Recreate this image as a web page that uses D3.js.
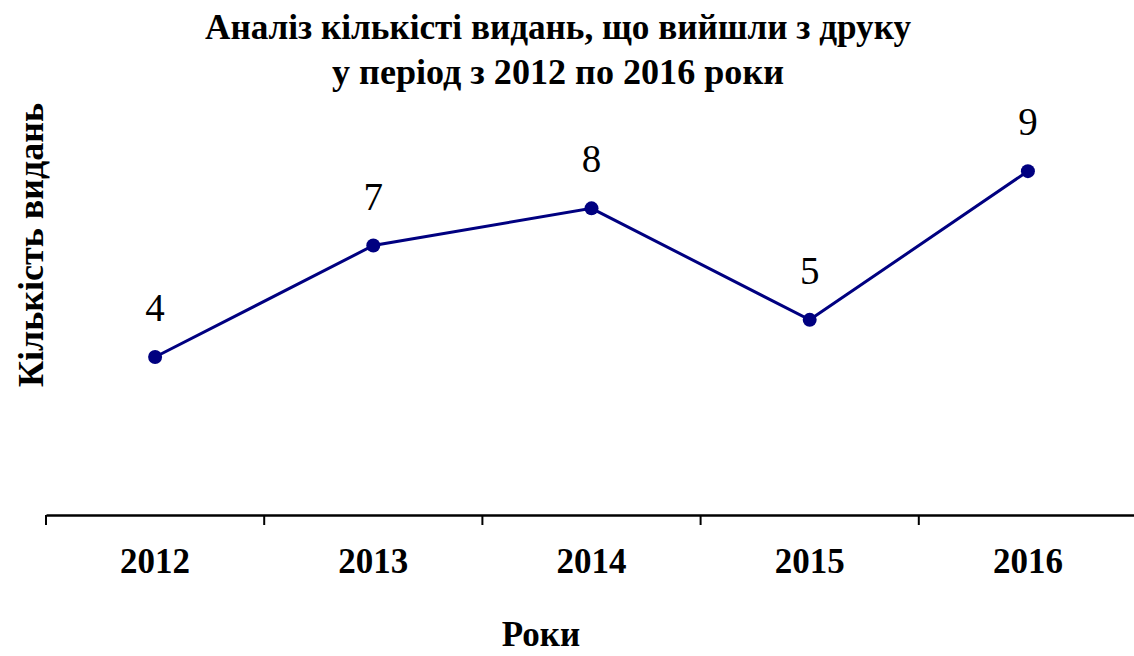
<!DOCTYPE html>
<html>
<head>
<meta charset="utf-8">
<script src="https://cdn.jsdelivr.net/npm/d3@7"></script>
<style>
  body { margin: 0; background: #fff; }
  svg { display: block; }
</style>
</head>
<body>
<svg id="svg" width="1134" height="656"></svg>
<script>
var years = ["2012", "2013", "2014", "2015", "2016"];
var counts = [4, 7, 8, 5, 9];
var titleLines = ["Аналіз кількісті видань, що вийшли з друку", "у період з 2012 по 2016 роки"];

var svg = d3.select("#svg");
var serif = "'Liberation Serif', 'Times New Roman', serif";

var x = d3.scaleBand().domain(years).range([46, 1137]);
var y = d3.scaleLinear().domain([-0.25, 10]).range([515, 134]);

// title
svg.append("g").selectAll("text")
    .data(titleLines)
    .enter().append("text")
    .attr("x", 558)
    .attr("y", function(d, i) { return 39 + i * 45; })
    .attr("text-anchor", "middle")
    .attr("font-family", serif)
    .attr("font-weight", "bold")
    .attr("font-size", "36px")
    .attr("textLength", function(d, i) { return i == 0 ? 706 : 452; })
    .attr("lengthAdjust", "spacingAndGlyphs")
    .text(function(d) { return d; });

// x axis
var xAxis = d3.axisBottom(x).tickSize(10).tickSizeOuter(0).tickFormat("");
var gx = svg.append("g").attr("transform", "translate(0,515)").call(xAxis);
gx.select(".domain").attr("stroke", "#000").attr("stroke-width", 2.5);
// ticks sit on band edges, not centres
gx.selectAll(".tick").remove();
gx.selectAll("line.edge")
    .data(years)
    .enter().append("line")
    .attr("class", "edge")
    .attr("x1", function(d) { return x(d); })
    .attr("x2", function(d) { return x(d); })
    .attr("y1", 0).attr("y2", 10)
    .attr("stroke", "#000").attr("stroke-width", 2);

svg.append("g").selectAll("text")
    .data(years)
    .enter().append("text")
    .attr("x", function(d) { return x(d) + x.bandwidth() / 2; })
    .attr("y", 573)
    .attr("text-anchor", "middle")
    .attr("font-family", serif)
    .attr("font-weight", "bold")
    .attr("font-size", "35px")
    .text(function(d) { return d; });

// axis titles
svg.append("text")
    .attr("x", 541).attr("y", 646)
    .attr("text-anchor", "middle")
    .attr("font-family", serif)
    .attr("font-weight", "bold")
    .attr("font-size", "35px")
    .text("Роки");

svg.append("text")
    .attr("transform", "translate(43,245) rotate(-90)")
    .attr("text-anchor", "middle")
    .attr("font-family", serif)
    .attr("font-weight", "bold")
    .attr("font-size", "36px")
    .text("Кількість видань");

// line + points
var cx = function(d, i) { return x(years[i]) + x.bandwidth() / 2; };
var line = d3.line().x(cx).y(function(d) { return y(d); });

svg.append("path")
    .datum(counts)
    .attr("d", line)
    .attr("fill", "none")
    .attr("stroke", "#000080")
    .attr("stroke-width", 3);

svg.append("g").selectAll("circle")
    .data(counts)
    .enter().append("circle")
    .attr("cx", cx)
    .attr("cy", function(d) { return y(d); })
    .attr("r", 7)
    .attr("fill", "#000080");

svg.append("g").selectAll("text")
    .data(counts)
    .enter().append("text")
    .attr("x", cx)
    .attr("y", function(d) { return y(d) - 36; })
    .attr("text-anchor", "middle")
    .attr("font-family", serif)
    .attr("font-size", "39px")
    .text(function(d) { return d; });
</script>
</body>
</html>
